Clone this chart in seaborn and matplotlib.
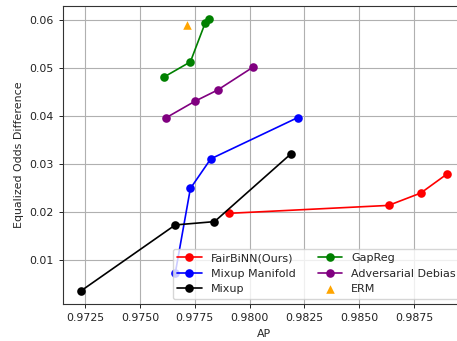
import matplotlib
matplotlib.use("Agg")
import matplotlib.pyplot as plt
import seaborn as sns
import pandas as pd

# Data
fairbinn_ap = [0.97904, 0.98634, 0.98781, 0.98900]
fairbinn_eod = [0.01965, 0.02131, 0.02390, 0.02785]

manifold_ap = [0.97661, 0.97730, 0.97823, 0.98219]
manifold_eod = [0.00715, 0.02485, 0.03104, 0.03965]

mixup_ap = [0.97232, 0.97661, 0.97840, 0.98187]
mixup_eod = [0.00348, 0.01723, 0.01792, 0.03202]

gapreg_ap = [0.97609, 0.97730, 0.97797, 0.97813]
gapreg_eod = [0.04813, 0.05131, 0.05938, 0.06021]

advdeb_ap = [0.97620, 0.97750, 0.97854, 0.98016]
advdeb_eod = [0.03965, 0.04306, 0.04542, 0.05021]

erm_ap = [0.97714]
erm_eod = [0.05896]

series = [
    ("FairBiNN(Ours)", fairbinn_ap, fairbinn_eod, "red"),
    ("Mixup Manifold", manifold_ap, manifold_eod, "blue"),
    ("Mixup", mixup_ap, mixup_eod, "black"),
    ("GapReg", gapreg_ap, gapreg_eod, "green"),
    ("Adversarial Debias", advdeb_ap, advdeb_eod, "purple"),
]

sns.set_style("ticks")
plt.rcParams["font.family"] = ["DejaVu Sans"]
plt.rcParams["font.size"] = 7.9

fig = plt.figure(figsize=(4.57, 3.41), dpi=100)
ax = fig.add_axes([0.1379, 0.1076, 0.8807, 0.8757])

for name, xs, ys, col in series:
    df = pd.DataFrame({"AP": xs, "EOD": ys})
    sns.lineplot(data=df, x="AP", y="EOD", color=col, marker="o",
                 markersize=6.2, markeredgewidth=0, linewidth=1.2,
                 sort=False, estimator=None, label=name, ax=ax)

df_erm = pd.DataFrame({"AP": erm_ap, "EOD": erm_eod})
sns.scatterplot(data=df_erm, x="AP", y="EOD", color="orange", marker="^",
                s=38, linewidth=0, label="ERM", ax=ax)

ax.set_xlim(0.97149, 0.98985)
ax.set_ylim(0.00064, 0.06305)
ax.set_xticks([0.9725, 0.9750, 0.9775, 0.9800, 0.9825, 0.9850, 0.9875])
ax.set_xticklabels(["0.9725", "0.9750", "0.9775", "0.9800", "0.9825", "0.9850", "0.9875"])
ax.set_yticks([0.01, 0.02, 0.03, 0.04, 0.05, 0.06])
ax.set_yticklabels(["0.01", "0.02", "0.03", "0.04", "0.05", "0.06"])
ax.grid(True, color="#b0b0b0", linewidth=0.8)
ax.set_axisbelow(True)
ax.set_xlabel("AP", fontsize=7.9)
ax.set_ylabel("Equalized Odds Difference", fontsize=7.9)
for sp in ax.spines.values():
    sp.set_visible(True)
    sp.set_color("#333333")
    sp.set_linewidth(0.8)
ax.tick_params(colors="#222222", labelsize=7.9, length=3, width=0.7)

ax.legend(loc="lower right", ncol=2, fontsize=8.0, framealpha=0.8,
          edgecolor="#cccccc", fancybox=True, handlelength=2.2)

fig.savefig("out.png", dpi=100)
